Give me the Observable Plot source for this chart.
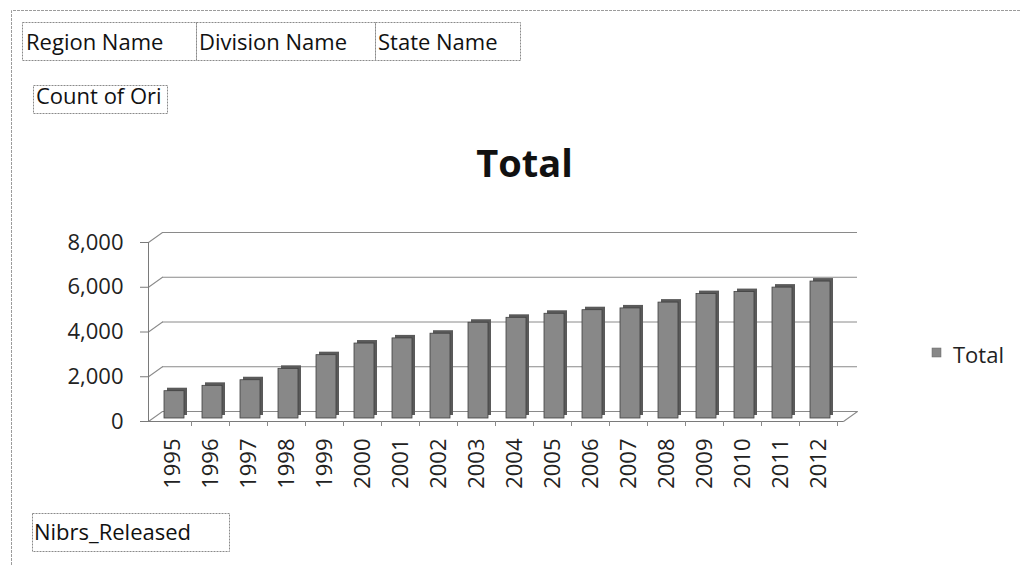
<!DOCTYPE html>
<html>
<head>
<meta charset="utf-8">
<script src="https://cdn.jsdelivr.net/npm/d3@7"></script>
<script src="https://cdn.jsdelivr.net/npm/@observablehq/plot@0.6"></script>
<style>
  html, body { margin: 0; padding: 0; background: #fff; }
  #wrap { position: relative; width: 1021px; height: 565px; overflow: hidden; }
  #wrap svg { position: absolute; left: 0; top: 0; }
</style>
</head>
<body>
<div id="wrap"></div>
<script>
// ---- data ----
const years = ["1995","1996","1997","1998","1999","2000","2001","2002","2003",
               "2004","2005","2006","2007","2008","2009","2010","2011","2012"];
const totals = [1220,1460,1710,2220,2830,3350,3580,3790,4280,
                4500,4680,4840,4920,5180,5560,5650,5850,6120];
const yTicks = [0, 2000, 4000, 6000, 8000];
const chartTitle = "Total";
const seriesName = "Total";
const filterFields = ["Region Name", "Division Name", "State Name"];
const valueField = "Count of Ori";
const rowField = "Nibrs_Released";

const data = years.map((y, i) => ({year: y, total: totals[i]}));
const FONT = "Open Sans";

// line shape for vectors (simple stroke)
const lineShape = {draw(context, l) { context.moveTo(0, 0); context.lineTo(0, -l); }};

const chart = Plot.plot({
  width: 1021,
  height: 565,
  marginLeft: 148,
  marginRight: 178,
  marginTop: 242,
  marginBottom: 144,
  style: {fontFamily: FONT, fontSize: "22px", color: "#222", background: "transparent"},
  x: {type: "band", domain: years, paddingInner: 0.47, paddingOuter: 0.33, label: null},
  y: {domain: [0, 8000], label: null},
  marks: [
    // back-wall gridlines
    Plot.ruleY(yTicks, {dx: 14, dy: -10, stroke: "#8a8a8a", strokeWidth: 1}),
    // left-wall connectors
    Plot.vector(yTicks, {y: d => d, frameAnchor: "left", length: 17.2, rotate: 54.5,
      anchor: "start", shape: lineShape, stroke: "#8a8a8a", strokeWidth: 1}),
    Plot.vector([0], {y: d => d, frameAnchor: "right", length: 17.2, rotate: 54.5,
      anchor: "start", shape: lineShape, stroke: "#8a8a8a", strokeWidth: 1}),
    // front floor + left wall edge
    Plot.ruleY([0], {stroke: "#7a7a7a", strokeWidth: 1}),
    Plot.frame({anchor: "left", stroke: "#7a7a7a"}),
    // bars (side/top hint + front face)
    Plot.barY(data, {x: "year", y: "total", fill: "#5a5a5a", dx: 5, dy: -6}),
    Plot.barY(data, {x: "year", y: "total", fill: "#888888", stroke: "#404040",
      strokeWidth: 0.8, dx: 2, dy: -3}),
    // axes
    Plot.axisY({ticks: yTicks, tickFormat: d3.format(","), tickSize: 8, tickPadding: 17,
      fontSize: 22, stroke: "#7a7a7a", fill: "#222", label: null}),
    Plot.axisX({tickRotate: -90, tickSize: 0, tickPadding: 17, fontSize: 22, fill: "#222", label: null}),
    Plot.axisX({text: null, tickSize: 5, dx: 19, stroke: "#8a8a8a", label: null})
  ]
});
document.getElementById("wrap").appendChild(chart);

// ---- overlay: pivot field buttons, title, legend ----
const ov = d3.select("#wrap").append("svg")
  .attr("width", 1021).attr("height", 565)
  .style("font-family", FONT).style("pointer-events", "none");

// outer worksheet frame
ov.append("path").attr("d", "M11.5,565 V10.5 H1021")
  .attr("fill", "none").attr("stroke", "#9c9c9c").attr("stroke-width", 1)
  .attr("stroke-dasharray", "3,1");

const boxStroke = "#8a8a8a";
const boxes = [
  {x: 22.5, y: 22.5, w: 174, h: 38, tx: 26, ty: 50, t: filterFields[0]},
  {x: 196.5, y: 22.5, w: 179, h: 38, tx: 199, ty: 50, t: filterFields[1]},
  {x: 375.5, y: 22.5, w: 145, h: 38, tx: 378, ty: 50, t: filterFields[2]},
  {x: 33.5, y: 85.5, w: 134, h: 28, tx: 36, ty: 104, t: valueField},
  {x: 32.5, y: 513.5, w: 197, h: 38, tx: 34, ty: 540, t: rowField}
];
boxes.forEach(b => {
  ov.append("rect").attr("x", b.x).attr("y", b.y).attr("width", b.w).attr("height", b.h)
    .attr("fill", "none").attr("stroke", boxStroke).attr("stroke-width", 1)
    .attr("stroke-dasharray", "2,1");
  ov.append("text").attr("x", b.tx).attr("y", b.ty).attr("font-size", 22)
    .attr("fill", "#111").text(b.t);
});

// title
ov.append("text").attr("x", 524.5).attr("y", 177).attr("text-anchor", "middle")
  .attr("font-size", 38).attr("font-weight", "bold").attr("fill", "#111").text(chartTitle);

// legend
ov.append("rect").attr("x", 932).attr("y", 348).attr("width", 9).attr("height", 9)
  .attr("fill", "#888888").attr("stroke", "#666").attr("stroke-width", 0.5);
ov.append("text").attr("x", 953).attr("y", 363).attr("font-size", 22)
  .attr("fill", "#222").text(seriesName);
</script>
</body>
</html>
